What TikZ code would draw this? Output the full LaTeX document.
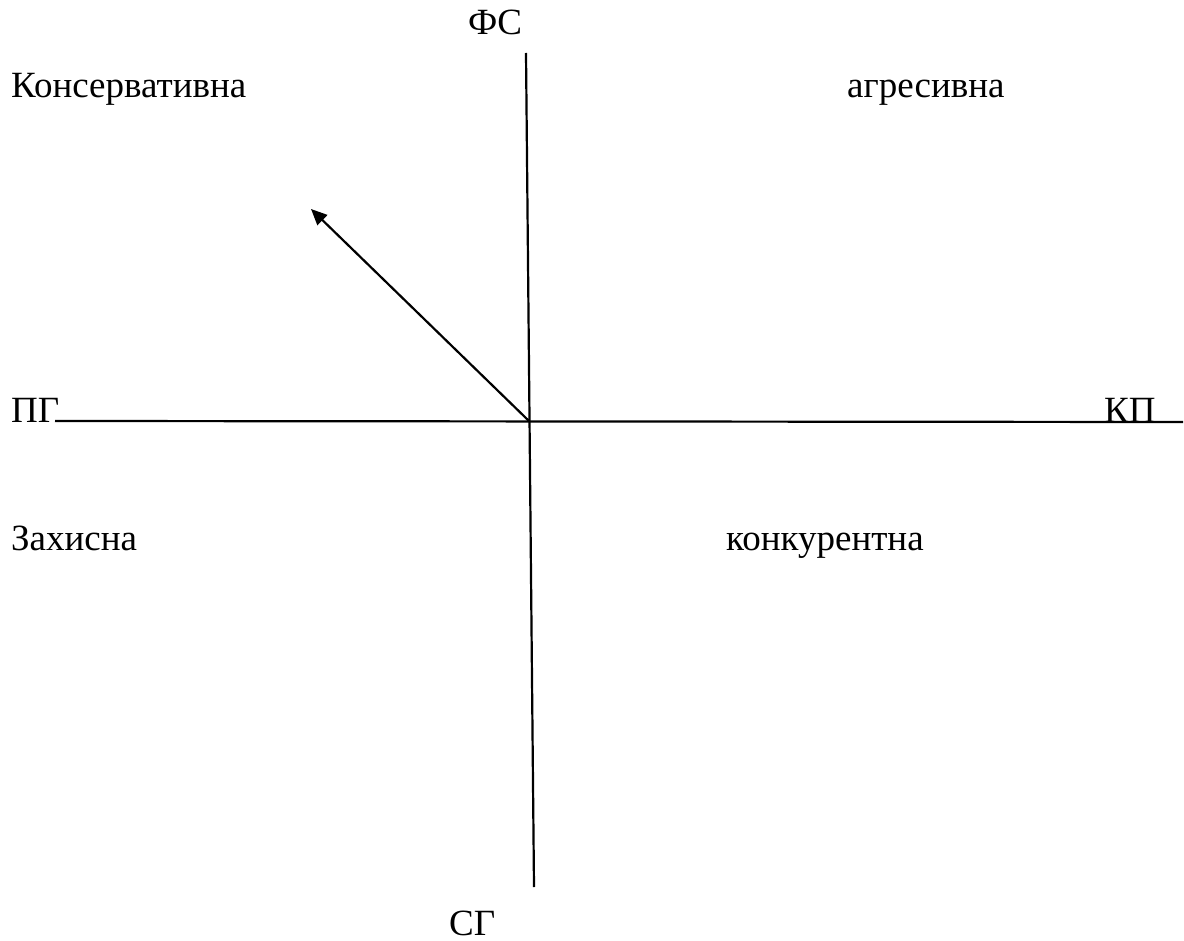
\documentclass[tikz,border=0pt]{standalone}
\usepackage{fontspec}
\setmainfont{Liberation Serif}
\usetikzlibrary{arrows.meta}

\begin{document}
\begin{tikzpicture}[
  x=1pt, y=-1pt,
  every node/.style={inner sep=0pt, anchor=base west, font=\fontsize{37}{43}\selectfont},
  axis/.style={line width=2.2pt},
  arrow/.style={-{Triangle[length=16pt,width=14pt]}, line width=2.2pt}
]
\useasboundingbox (0,0) rectangle (1184,941);
% axis labels
\node (FS) at (468,35)  {ФС};
\node (SG) at (449,935) {СГ};
\node (PG) at (11,422)  {ПГ};
\node (KP) at (1104,422) {КП};
% quadrant labels
\node (kons) at (11,98)   {Консервативна};
\node (agr)  at (847,98)  {агресивна};
\node (zakh) at (11,550)  {Захисна};
\node (konk) at (726,550) {конкурентна};
% axes
\coordinate (O) at (529,421);
\coordinate (top) at (526,53);
\coordinate (bot) at (534,887);
\coordinate (left) at (55,421);
\coordinate (right) at (1183,422);
\coordinate (tip) at (311,209);
\draw[axis] (top) -- (bot);
\draw[axis] (left) -- (right);
\draw[arrow] (O) -- (tip);
\end{tikzpicture}
\end{document}
